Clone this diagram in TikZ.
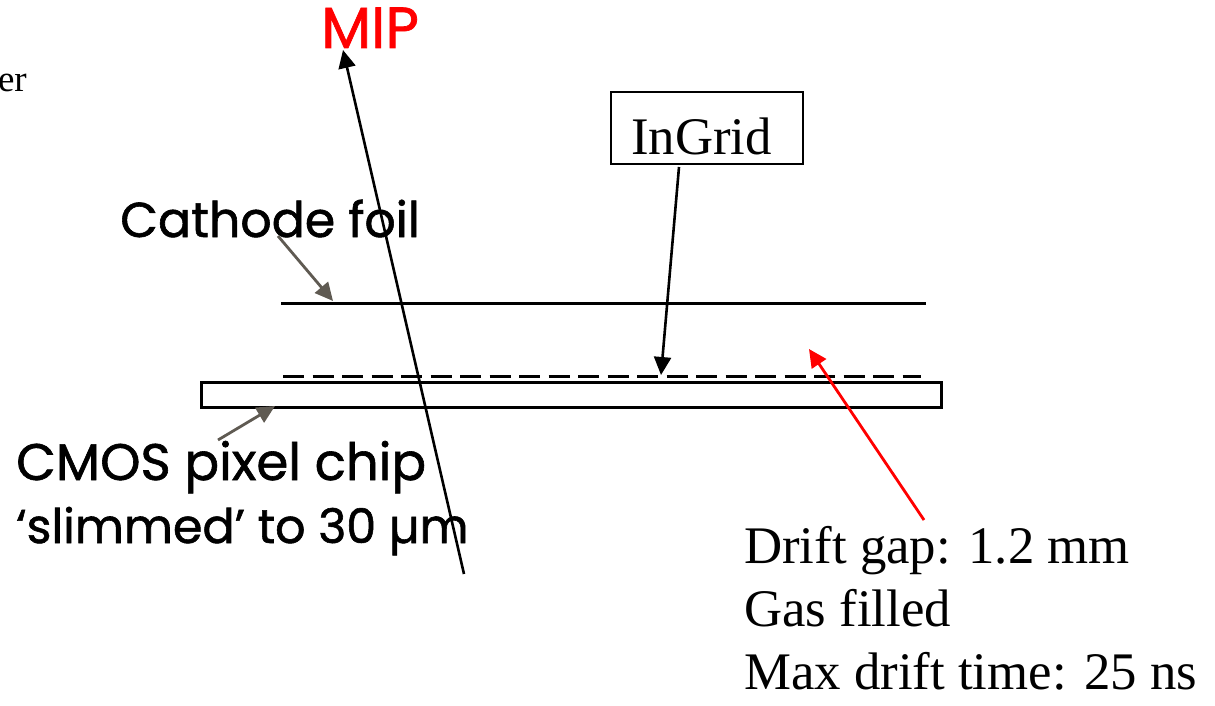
\documentclass[tikz,border=0pt]{standalone}
\usepackage{fontspec}
\setmainfont{Liberation Serif}
\newfontfamily\handfont[FakeBold=1.2]{Poppins}
\usetikzlibrary{arrows.meta}
\tikzset{
  x=1pt,y=-1pt,
  serif text/.style={inner sep=0pt,anchor=base west,font=\fontsize{52.8}{63}\selectfont,text=black},
  hand text/.style={inner sep=0pt,anchor=base west,font=\handfont\fontsize{49}{63}\selectfont,text=black},
  track/.style={draw=black,line width=2.6pt,-{Triangle[length=18pt,width=17pt]}},
  pointer/.style={draw=pointergrey,line width=2.8pt,-{Triangle[length=18pt,width=17pt]}},
  redpointer/.style={draw=red,line width=2.8pt,-{Triangle[length=18pt,width=17pt]},red},
  plate/.style={draw=black,line width=3pt}
}
\definecolor{pointergrey}{RGB}{95,90,82}
\begin{document}
\begin{tikzpicture}
\useasboundingbox (0,0) rectangle (1215,706);
% texts
\node[serif text,font=\fontsize{37}{40}\selectfont,anchor=base east] (er) at (27,92) {er};
\node[hand text,text=red,font=\handfont\fontsize{58}{60}\selectfont] (mip) at (321,48) {MIP};
\node[hand text] (cathode) at (120,237) {Cathode foil};
\node[hand text,align=left] (cmos) at (16,543) {\fontsize{51.4}{63}\selectfont CMOS pixel chip\\\fontsize{47.6}{63}\selectfont ‘slimmed’ to 30 µm};
\node[draw=black,line width=2.6pt,minimum width=192pt,minimum height=72pt,inner sep=0pt] (ingrid) at (707,128) {};
\node[serif text] (ingridlabel) at (631,154) {InGrid};
\node[serif text,align=left] (drift) at (744,689) {Drift gap: 1.2 mm\\Gas filled\\Max drift time: 25 ns};
% plates
\coordinate (foilL) at (281,303.5); \coordinate (foilR) at (926,303.5);
\coordinate (gridL) at (283,376); \coordinate (gridR) at (921,376);
\draw[line width=3pt] (foilL) -- (foilR);
\draw[line width=3pt,dash pattern=on 21pt off 8.5pt] (gridL) -- (gridR);
\node[plate,minimum width=740pt,minimum height=25pt,inner sep=0pt] (chip) at (571,394.5) {};
% connectors
\coordinate (mipS) at (464,574); \coordinate (mipE) at (343,50);
\draw[track] (mipS) -- (mipE);
\coordinate (catS) at (278,236); \coordinate (catE) at (333,301);
\draw[pointer] (catS) -- (catE);
\coordinate (inS) at (679,167); \coordinate (inE) at (661,375);
\draw[track] (inS) -- (inE);
\coordinate (cmS) at (218,440); \coordinate (cmE) at (275,406);
\draw[pointer] (cmS) -- (cmE);
\coordinate (drS) at (924,520); \coordinate (drE) at (809,349);
\draw[redpointer] (drS) -- (drE);
\end{tikzpicture}
\end{document}
